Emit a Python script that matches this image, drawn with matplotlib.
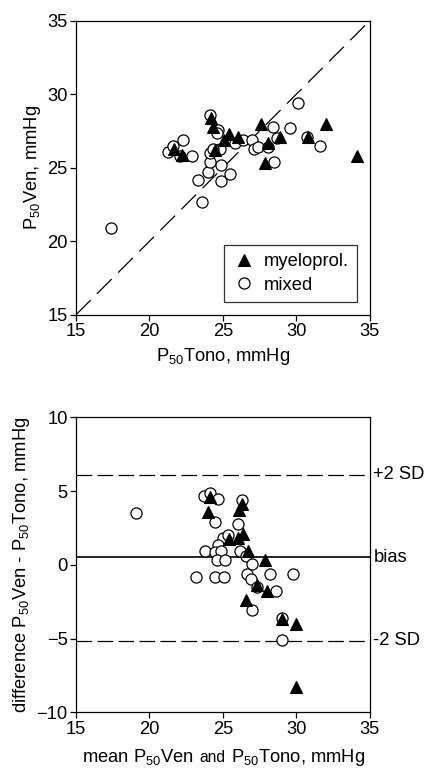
import numpy as np
import matplotlib.pyplot as plt
from matplotlib.offsetbox import TextArea, HPacker, AnchoredOffsetbox

plt.rcParams['font.family'] = ['Liberation Sans', 'DejaVu Sans']
plt.rcParams['mathtext.fontset'] = 'custom'
plt.rcParams['mathtext.rm'] = 'Liberation Sans'
plt.rcParams['mathtext.default'] = 'regular'
plt.rcParams['lines.scale_dashes'] = False

# top panel: P50 Tono (x) vs P50 Ven (y)
myelo_tono = [21.7, 22.2, 24.2, 24.3, 24.5, 25.4, 25.1, 26.0, 27.6, 27.9, 28.1, 28.9, 30.8, 32.0, 34.1]
myelo_ven = [26.3, 25.9, 28.4, 27.8, 26.2, 27.3, 26.9, 27.1, 28.0, 25.3, 26.7, 27.1, 27.1, 28.0, 25.8]
mixed_tono = [17.4, 21.3, 21.6, 22.3, 22.1, 22.9, 23.3, 23.6, 24.0, 24.1, 24.1, 24.1, 24.7, 24.6,
              24.8, 24.9, 24.9, 25.5, 25.8, 26.4, 27.0, 27.1, 27.4, 28.1, 28.4, 28.7, 28.5, 29.6,
              30.1, 30.7, 31.6, 24.3]
mixed_ven = [20.9, 26.1, 26.5, 26.9, 25.8, 25.8, 24.2, 22.7, 24.7, 25.4, 28.6, 26.0, 27.6, 27.4,
             26.3, 25.2, 24.1, 24.6, 26.7, 26.9, 26.9, 26.3, 26.4, 26.4, 27.8, 27.0, 25.4, 27.7,
             29.4, 27.1, 26.5, 26.3]

# bottom panel: Bland-Altman
myelo_mean = [24.1, 24.0, 26.1, 26.3, 26.4, 25.4, 26.0, 26.7, 27.9, 26.6, 27.3, 28.0, 29.0, 30.0, 30.0]
myelo_diff = [4.6, 3.6, 3.7, 4.1, 2.1, 1.75, 1.8, 0.95, 0.35, -2.4, -1.35, -1.8, -3.7, -4.0, -8.3]
mixed_mean = [19.1, 23.75, 24.15, 24.7, 26.3, 24.45, 26.05, 25.0, 25.35, 24.7, 23.8, 24.45, 24.9,
              24.6, 25.15, 26.2, 26.6, 27.0, 23.15, 24.5, 25.1, 26.65, 26.9, 28.2, 29.8, 27.3,
              28.65, 27.0, 29.0, 29.05]
mixed_diff = [3.55, 4.7, 4.85, 4.5, 4.4, 2.9, 2.8, 1.85, 2.0, 1.35, 0.95, 0.85, 0.95, 0.3, 0.3,
              0.95, 0.6, 0.05, -0.85, -0.85, -0.85, -0.65, -0.95, -0.6, -0.65, -1.5, -1.75, -3.05,
              -3.6, -5.1]
bias = 0.5
upper_sd = 6.1
lower_sd = -5.15

fig = plt.figure(figsize=(4.24, 7.68), dpi=100)
ax1 = fig.add_axes([0.179, 0.590, 0.693, 0.383])
ax2 = fig.add_axes([0.179, 0.0725, 0.693, 0.384])

fs = 13.2
tri = dict(marker='^', color='black', markersize=8, linestyle='none', markeredgewidth=0.8)
circ = dict(marker='o', markerfacecolor='white', markeredgecolor='black', markersize=8,
            linestyle='none', markeredgewidth=0.9)

ax1.plot([15, 35], [15, 35], color='black', lw=0.9, dashes=(15, 6.5), zorder=1)
ax1.plot(myelo_tono, myelo_ven, label='myeloprol.', zorder=3, **tri)
ax1.plot(mixed_tono, mixed_ven, label='mixed', zorder=2, **circ)
ax1.set_xlim(15, 35)
ax1.set_ylim(15, 35)
ax1.set_xticks([15, 20, 25, 30, 35])
ax1.set_yticks([15, 20, 25, 30, 35])
ax1.set_xlabel('P$_{50}$Tono, mmHg', fontsize=fs, labelpad=4)
ax1.set_ylabel('P$_{50}$Ven, mmHg', fontsize=fs, labelpad=3)
leg = ax1.legend(loc='lower right', bbox_to_anchor=(0.956, 0.044), fontsize=fs, frameon=True,
                 fancybox=False, edgecolor='black', handletextpad=0.4, borderpad=0.45,
                 labelspacing=0.35, handlelength=1.3, borderaxespad=0)
leg.get_frame().set_linewidth(0.9)

ax2.axhline(upper_sd, color='black', lw=0.9, dashes=(11.3, 3.8))
ax2.axhline(lower_sd, color='black', lw=0.9, dashes=(11.3, 3.8))
ax2.axhline(bias, color='black', lw=1.2)
ax2.plot(mixed_mean, mixed_diff, zorder=2, **circ)
ax2.plot(myelo_mean, myelo_diff, zorder=3, **tri)
ax2.set_xlim(15, 35)
ax2.set_ylim(-10, 10)
ax2.set_xticks([15, 20, 25, 30, 35])
ax2.set_yticks([-10, -5, 0, 5, 10])
ax2.set_ylabel('difference P$_{50}$Ven - P$_{50}$Tono, mmHg', fontsize=fs, labelpad=3)
for val, txt in [(upper_sd, '+2 SD'), (bias, 'bias'), (lower_sd, '-2 SD')]:
    ax2.text(35.25, val, txt, fontsize=fs, va='center', ha='left', clip_on=False)

# x label with a smaller "and"
parts = [TextArea('mean P$_{50}$Ven', textprops=dict(fontsize=fs)),
         TextArea('and', textprops=dict(fontsize=fs * 0.85)),
         TextArea('P$_{50}$Tono, mmHg', textprops=dict(fontsize=fs))]
box = HPacker(children=parts, align='baseline', pad=0, sep=4)
anchored = AnchoredOffsetbox(loc='lower center', child=box, pad=0, borderpad=0, frameon=False,
                             bbox_to_anchor=(0.528, 0.0), bbox_transform=fig.transFigure)
fig.add_artist(anchored)

for ax in (ax1, ax2):
    ax.tick_params(direction='out', length=4, width=0.9, labelsize=fs, pad=2,
                   top=False, right=False)
    for s in ax.spines.values():
        s.set_linewidth(0.9)

fig.savefig('out.png', dpi=100)
